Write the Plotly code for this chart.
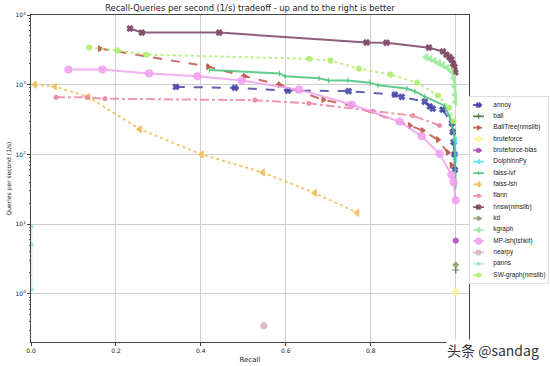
import plotly.graph_objects as go

names = ["annoy", "ball", "BallTree(nmslib)", "bruteforce", "bruteforce-blas", "DolphinnPy",
         "faiss-ivf", "faiss-lsh", "flann", "hnsw(nmslib)", "kd", "kgraph", "MP-lsh(lshkit)",
         "nearpy", "panns", "SW-graph(nmslib)"]

annoy_x = [0.341, 0.48, 0.605, 0.748, 0.857, 0.873, 0.927, 0.939, 0.946, 0.969, 0.991, 0.993, 0.995, 0.997, 0.998]
annoy_y = [930, 900, 825, 810, 720, 670, 570, 490, 455, 440, 280, 210, 150, 100, 60]
ball_x = [1.0]
ball_y = [2.2]
balltree_x = [0.162, 0.417, 0.503, 0.585, 0.688, 0.755, 0.892, 0.922, 0.958, 0.981, 0.99]
balltree_y = [3300, 1820, 1320, 1000, 610, 500, 260, 220, 163, 107, 70]
brute_x = [1.0]
brute_y = [1.07]
blas_x = [1.0]
blas_y = [5.8]
dolphinn_x = [0.999, 0.999]
dolphinn_y = [160, 85]
ivf_x = [0.42, 0.585, 0.598, 0.678, 0.701, 0.746, 0.798, 0.817, 0.885, 0.904, 0.927, 0.974, 0.986, 0.996, 0.998, 0.999, 1.0]
ivf_y = [1620, 1450, 1320, 1240, 1150, 1150, 1070, 980, 880, 800, 675, 500, 340, 200, 100, 50, 35]
flsh_x = [0.009, 0.056, 0.135, 0.256, 0.402, 0.546, 0.668, 0.768]
flsh_y = [1000, 940, 670, 230, 100, 55, 28, 14.6]
flann_x = [0.059, 0.132, 0.174, 0.527, 0.654, 0.805, 0.899, 0.962]
flann_y = [660, 660, 630, 600, 540, 415, 360, 260]
hnsw_x = [0.233, 0.261, 0.443, 0.79, 0.837, 0.937, 0.97, 0.978, 0.985, 0.99, 0.994, 0.997, 0.999]
hnsw_y = [6400, 5600, 5600, 4030, 4000, 3400, 3000, 2700, 2500, 2300, 2000, 1800, 1500]
kd_x = [1.0]
kd_y = [2.6]
kgraph_x = [0.93, 0.94, 0.95, 0.96, 0.97, 0.98, 0.99, 0.995, 0.997, 0.998, 0.999]
kgraph_y = [2500, 2350, 2200, 2050, 1900, 1750, 1550, 1250, 950, 720, 560]
mplsh_x = [0.088, 0.168, 0.278, 0.392, 0.496, 0.631, 0.755, 0.868, 0.92, 0.962, 0.99, 0.995, 1.0]
mplsh_y = [1650, 1650, 1450, 1320, 1150, 850, 520, 295, 182, 102, 51, 40, 22]
nearpy_x = [0.548]
nearpy_y = [0.35]
panns_x = [0.002, 0.002, 0.002]
panns_y = [9.3, 5.1, 1.15]
sw_x = [0.137, 0.203, 0.272, 0.655, 0.705, 0.772, 0.846, 0.909, 0.958, 0.985, 0.995]
sw_y = [3420, 3100, 2700, 2350, 2230, 1700, 1400, 1070, 700, 470, 300]

y_tickvals = [1, 10, 100, 1000, 10000]
y_ticktext = ["10<sup>0</sup>", "10<sup>1</sup>", "10<sup>2</sup>", "10<sup>3</sup>", "10<sup>4</sup>"]
x_tickvals = [0.0, 0.2, 0.4, 0.6, 0.8, 1.0]
x_ticktext = ["0.0", "0.2", "0.4", "0.6", "0.8", "1.0"]

data = [
    (annoy_x, annoy_y), (ball_x, ball_y), (balltree_x, balltree_y), (brute_x, brute_y),
    (blas_x, blas_y), (dolphinn_x, dolphinn_y), (ivf_x, ivf_y), (flsh_x, flsh_y),
    (flann_x, flann_y), (hnsw_x, hnsw_y), (kd_x, kd_y), (kgraph_x, kgraph_y),
    (mplsh_x, mplsh_y), (nearpy_x, nearpy_y), (panns_x, panns_y), (sw_x, sw_y),
]

styles = [
    dict(color="rgba(70,70,170,0.85)", dash="dash", symbol="x", size=5, width=2),
    dict(color="rgba(70,110,60,0.85)", dash="solid", symbol="cross-thin", size=5, width=2),
    dict(color="rgba(190,85,70,0.85)", dash="dash", symbol="triangle-right", size=5, width=2),
    dict(color="rgba(250,245,160,0.85)", dash="solid", symbol="circle", size=6, width=2),
    dict(color="rgba(170,80,195,0.85)", dash="dash", symbol="circle", size=5, width=2),
    dict(color="rgba(90,230,240,0.85)", dash="solid", symbol="triangle-left", size=5, width=2),
    dict(color="rgba(70,195,120,0.85)", dash="solid", symbol="line-ns", size=4, width=2),
    dict(color="rgba(240,190,90,0.85)", dash="dot", symbol="triangle-left", size=6, width=2),
    dict(color="rgba(235,135,160,0.85)", dash="dashdot", symbol="circle", size=4, width=2),
    dict(color="rgba(130,75,105,0.9)", dash="solid", symbol="x", size=5, width=2),
    dict(color="rgba(140,160,100,0.85)", dash="dot", symbol="cross", size=4, width=2),
    dict(color="rgba(160,235,160,0.85)", dash="solid", symbol="triangle-left", size=6, width=2),
    dict(color="rgba(242,160,240,0.85)", dash="solid", symbol="circle", size=7, width=2),
    dict(color="rgba(215,180,195,0.85)", dash="solid", symbol="circle", size=6, width=2),
    dict(color="rgba(150,220,220,0.6)", dash="solid", symbol="circle", size=3, width=1),
    dict(color="rgba(175,238,110,0.85)", dash="dot", symbol="circle", size=5, width=2),
]

fig = go.Figure()

for name, (xs, ys), st in zip(names, data, styles):
    fig.add_trace(go.Scatter(
        x=xs, y=ys, mode="lines+markers", name=name, showlegend=False,
        line=dict(color=st["color"], width=st["width"], dash=st["dash"]),
        marker=dict(symbol=st["symbol"], size=st["size"], color=st["color"],
                    line=dict(color=st["color"], width=1.2)),
        xaxis="x", yaxis="y",
    ))

# compact legend drawn on a side axis
for i, (name, st) in enumerate(zip(names, styles)):
    row = i + 1
    fig.add_trace(go.Scatter(
        x=[0.4, 1.8], y=[row, row], mode="lines", showlegend=False, hoverinfo="skip",
        line=dict(color=st["color"], width=1.8, dash=st["dash"]), xaxis="x2", yaxis="y2",
    ))
    fig.add_trace(go.Scatter(
        x=[1.1], y=[row], mode="markers", showlegend=False, hoverinfo="skip",
        marker=dict(symbol=st["symbol"], size=max(st["size"] - 1, 3), color=st["color"],
                    line=dict(color=st["color"], width=1.2)),
        xaxis="x2", yaxis="y2",
    ))
    fig.add_trace(go.Scatter(
        x=[3.0], y=[row], mode="text", showlegend=False, hoverinfo="skip",
        text=[name], textposition="middle right",
        textfont=dict(family="Liberation Sans", size=6.5, color="#222"),
        xaxis="x2", yaxis="y2",
    ))

fig.update_layout(
    width=550, height=366,
    margin=dict(l=31, r=2, t=15, b=24),
    paper_bgcolor="white", plot_bgcolor="white",
    font=dict(family="DejaVu Sans", size=7, color="#222"),
    title=dict(text="Recall-Queries per second (1/s) tradeoff - up and to the right is better",
               x=0.4235, xanchor="center", xref="paper", y=0.978, yanchor="middle", yref="container",
               font=dict(family="DejaVu Sans", size=8.3, color="#222")),
    xaxis=dict(domain=[0, 0.847], range=[0, 1.031], tickvals=x_tickvals, ticktext=x_ticktext,
               automargin=False,
               showgrid=True, gridcolor="#cfcfcf", gridwidth=1, zeroline=False,
               showline=True, linecolor="#444", linewidth=1, mirror=True,
               ticks="outside", ticklen=3, tickcolor="#444",
               tickfont=dict(size=6),
               title=dict(text="Recall", font=dict(size=7), standoff=3)),
    yaxis=dict(domain=[0, 1], type="log", range=[-0.69, 4.0], tickvals=y_tickvals, ticktext=y_ticktext,
               automargin=False,
               showgrid=True, gridcolor="#cfcfcf", gridwidth=1, zeroline=False,
               showline=True, linecolor="#444", linewidth=1, mirror=True,
               ticks="outside", ticklen=3, tickcolor="#444",
               minor=dict(ticks="outside", ticklen=1.5, tickcolor="#666", dtick="D1", showgrid=False),
               tickfont=dict(size=6),
               title=dict(text="Queries per second (1/s)", font=dict(size=6), standoff=3)),
    xaxis2=dict(domain=[0.849, 1.0], range=[0, 10], anchor="y2", automargin=False,
                showgrid=False, zeroline=False, showticklabels=False, ticks="",
                showline=True, linecolor="#dddddd", linewidth=1, mirror=True, fixedrange=True),
    yaxis2=dict(domain=[0.18, 0.749], range=[16.7, 0.3], anchor="x2", automargin=False,
                showgrid=False, zeroline=False, showticklabels=False, ticks="",
                showline=True, linecolor="#dddddd", linewidth=1, mirror=True, fixedrange=True),
)

fig.add_annotation(text="头条 @sandag", x=0.985, y=-0.025, xref="paper", yref="paper", showarrow=False,
                   xanchor="right", yanchor="middle", bgcolor="white", borderpad=0,
                   font=dict(family="Noto Sans CJK SC", size=14, color="#333"))

fig.write_html("out.html", config={"displayModeBar": False},
               post_script="document.body.style.margin='0';")
